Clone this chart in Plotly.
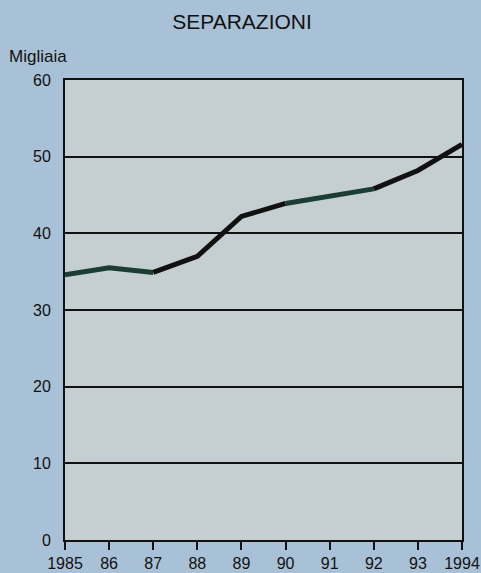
import plotly.graph_objects as go

years = [1985, 1986, 1987, 1988, 1989, 1990, 1991, 1992, 1993, 1994]
values = [34.6, 35.5, 34.9, 37.0, 42.2, 43.9, 44.8, 45.8, 48.2, 51.6]
tick_labels = ["1985", "86", "87", "88", "89", "90", "91", "92", "93", "1994"]
y_ticks = [0, 10, 20, 30, 40, 50, 60]

# segment colours (as printed): dark green / black alternating
segments = [(0, 2, "#1b3d34"), (2, 5, "#111111"), (5, 7, "#1b3d34"), (7, 9, "#111111")]

W, H = 481, 573
L, R, T, B = 65, 19, 80, 33
PW, PH = W - L - R, H - T - B

fig = go.Figure()
for a, b, c in segments:
    fig.add_trace(go.Scatter(
        x=years[a:b + 1], y=values[a:b + 1], mode="lines",
        line=dict(color=c, width=5), showlegend=False, hoverinfo="skip",
        cliponaxis=False,
    ))

fig.update_layout(
    width=W, height=H,
    margin=dict(l=L, r=R, t=T, b=B, autoexpand=False),
    paper_bgcolor="#a9c1d6",
    plot_bgcolor="#c5cfd2",
    font=dict(family="Liberation Sans, Arial, sans-serif", size=16, color="#111111"),
    title=dict(text="SEPARAZIONI", x=242 / W, xanchor="center", xref="container",
               yref="container", y=1 - 22 / H, yanchor="middle",
               font=dict(size=21, color="#111111")),
    annotations=[dict(text="Migliaia", xref="paper", yref="paper", x=-(L - 7) / PW, y=1 + 23 / PH,
                      xanchor="left", yanchor="middle", showarrow=False,
                      font=dict(size=17, color="#111111"))],
)
fig.update_xaxes(
    range=[1985, 1994], tickvals=years, ticktext=tick_labels,
    ticks="outside", ticklen=8, tickwidth=2, tickcolor="#111111",
    showline=True, linecolor="#111111", linewidth=2, mirror=True,
    showgrid=False, zeroline=False, tickfont=dict(size=16), automargin=False,
)
fig.update_yaxes(
    range=[0, 60], tickvals=y_ticks,
    showline=True, linecolor="#111111", linewidth=2, mirror=True,
    showgrid=True, gridcolor="#111111", gridwidth=1.5, zeroline=False,
    ticks="", ticklabelstandoff=9, tickfont=dict(size=16), automargin=False,
)

fig.write_html(
    "out.html",
    config={"displayModeBar": False},
    post_script="document.body.style.margin='0';document.body.style.overflow='hidden';",
)
